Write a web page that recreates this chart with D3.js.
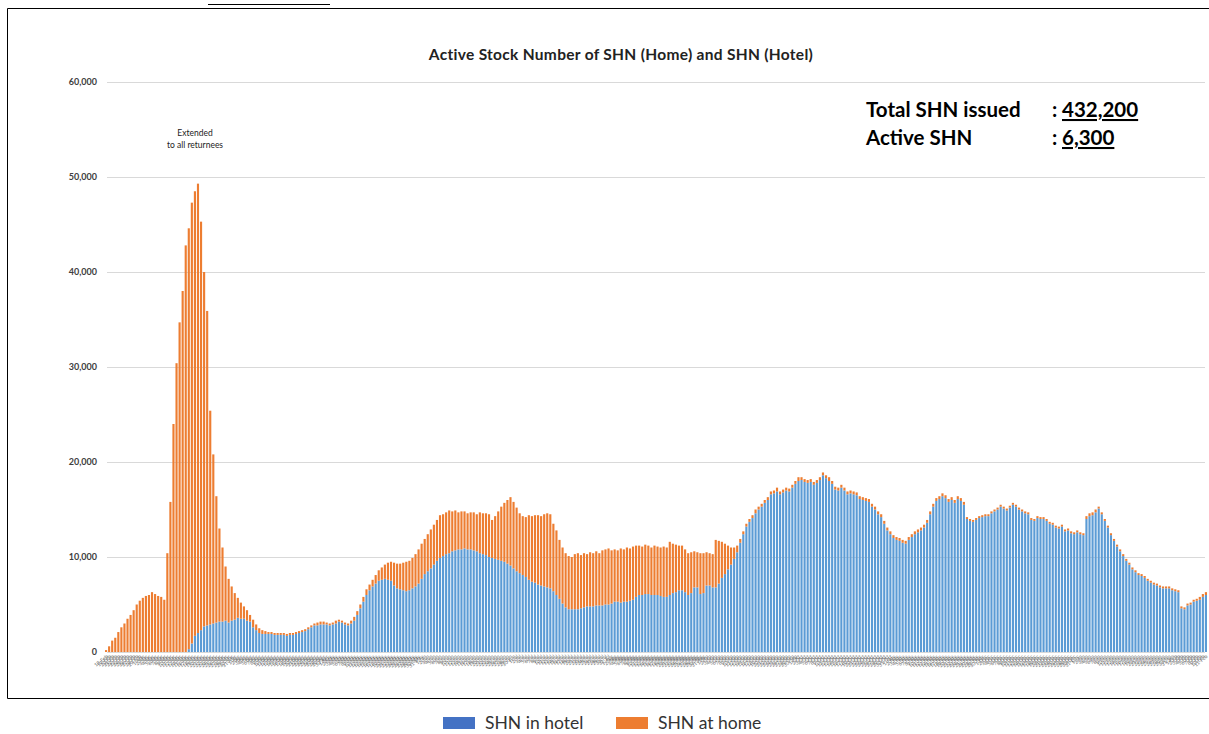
<!DOCTYPE html>
<html><head><meta charset="utf-8">
<script src="https://cdn.jsdelivr.net/npm/d3@7"></script>
<style>body{margin:0;background:#fff} svg{display:block}</style>
</head><body><svg id="c" width="1209" height="734"></svg>
<script>
const title = "Active Stock Number of SHN (Home) and SHN (Hotel)";
const seriesNames = ["SHN in hotel", "SHN at home"];
const seriesKeys = ["hotel", "home"];
const legendColors = ["#4472C4", "#ED7D31"];
const barColors = ["#5B9BD5", "#ED7D31"];
const yTicks = [0, 10000, 20000, 30000, 40000, 50000, 60000];
const annotation = ["Extended", "to all returnees"];
const infoLabels = ["Total SHN issued", "Active SHN"];
const infoValues = ["432,200", "6,300"];

const hotel = [
0,0,0,0,0,0,0,0,0,0,0,0,0,0,0,0,0,0,0,0,0,0,0,0,0,0,0,
300,900,1700,2000,2300,2700,2800,2900,3000,3100,3200,3200,3300,3100,3300,3400,3600,3500,3500,3300,3200,2600,2300,2000,1900,1900,1900,
1900,1800,1800,1800,1800,1700,1800,1800,1900,2000,2100,2200,2400,2600,2800,2800,2900,2900,2900,2800,2900,3000,3200,3100,2900,2800,3000,
3300,3900,4600,5300,6000,6500,6900,7200,7500,7600,7700,7600,7500,7000,6700,6600,6500,6400,6500,6700,6900,7200,7700,8200,8500,8800,9200,9600,9900,10100,
10300,10400,10600,10700,10800,10800,10900,10800,10800,10700,10600,10400,10300,10200,10000,9900,9800,9700,9600,9500,9300,9100,8800,8500,8300,8100,7900,7600,7400,7300,
7100,7000,6900,6800,6700,6400,6000,5600,5100,4700,4500,4500,4500,4500,4600,4700,4800,4800,4800,4900,4900,4900,5000,5000,5100,5300,5300,5200,5300,5300,
5400,5500,5800,6000,6000,6100,6100,6000,6000,6000,5900,5800,5800,6000,6200,6300,6500,6500,6300,6000,6200,6800,6800,6100,6200,7000,7000,6800,6800,7200,
7800,8200,8700,9200,9800,10500,11500,12400,13200,13700,14100,14600,15000,15300,15700,16000,16600,16700,16900,16600,16800,17000,16900,17300,17700,18000,18100,17900,17800,17900,
17600,17800,18100,18600,18300,18000,17700,17100,17000,17300,17000,16600,16700,16600,16500,16100,16000,15900,15800,15300,15000,14500,14200,13500,12800,12400,12000,11800,11700,11500,
11400,11800,12100,12400,12600,12800,13100,13600,14500,15300,15900,16100,16400,16200,15800,16000,15700,16100,15900,15500,14000,13800,13700,13900,14100,14200,14300,14300,14600,14800,
15000,15300,15100,14900,15200,15500,15300,15000,14800,14600,14500,13900,13800,14100,14000,14000,13800,13500,13400,13100,13000,13200,12700,12800,12500,12400,12600,12400,12300,14000,
14300,14400,14700,15100,14500,13800,13100,12300,11700,11100,10600,10100,9600,9200,8700,8400,8100,8000,7800,7500,7300,7100,7000,6800,6700,6700,6700,6500,6400,6300,4600,4500,4900,5000,5300,5400,5500,5800,6000
];

const home = [
200,600,1200,1500,2100,2600,3000,3500,3900,4400,5000,5400,5700,5900,6000,6300,6100,5900,5800,5500,10400,15800,24000,30400,34700,38000,42800,
44300,46400,46800,47300,43000,37300,33100,22500,17800,13300,9800,7800,5700,4600,3600,2800,2100,1700,1300,1100,700,800,600,500,400,300,200,
200,200,200,200,200,200,200,200,200,200,200,200,200,200,200,300,300,300,200,200,200,300,200,200,200,200,300,
400,400,400,500,600,600,700,900,1100,1300,1500,1800,2000,2400,2600,2700,2900,3100,3100,3200,3400,3600,3700,3700,3900,4100,4200,4300,4500,4400,
4400,4500,4200,4200,3900,4000,3900,3800,3900,4000,3900,4300,4300,4400,4500,4000,4500,5100,5700,6200,6700,7200,7000,6700,6300,6200,6300,6800,6900,7100,
7300,7300,7600,7800,7800,7100,6800,6200,5900,5700,5600,5500,5800,5900,5600,5700,5500,5700,5600,5700,5500,5800,5800,5900,5600,5500,5400,5700,5500,5700,
5500,5600,5400,5200,5100,5200,5100,5000,5200,5100,5100,5300,5200,5600,5200,5000,4700,4700,4500,4400,4300,3800,3700,4300,4200,3500,3400,3500,5000,4500,
3800,3200,2500,1800,1200,700,400,300,300,300,300,400,300,300,300,300,300,300,400,300,300,300,300,300,300,400,300,300,300,300,
300,300,300,300,300,400,300,300,300,300,300,300,300,300,300,300,300,300,300,300,300,300,300,300,300,300,300,300,300,300,
300,300,300,300,300,300,300,300,300,300,300,300,300,300,300,300,300,300,300,300,200,200,200,200,200,200,200,200,200,200,
200,200,200,200,200,200,200,200,200,200,200,200,200,200,200,200,200,200,200,200,200,200,200,200,200,200,200,200,200,300,
300,300,300,200,200,200,200,200,200,200,200,200,200,200,200,200,200,200,200,200,200,200,200,200,200,200,200,200,200,200,200,200,200,200,200,200,300,300,300
];

const N = hotel.length;
const startDate = new Date(2020, 1, 18);
const categories = d3.timeDay.range(startDate, d3.timeDay.offset(startDate, N)).map(d3.timeFormat("%-d-%b"));

const svg = d3.select("#c");
const FONT = "Lato, 'Open Sans', sans-serif";

// frame (right edge lies outside the picture)
svg.append("path").attr("d", "M1215,8.5 H7.5 V698.5 H1215")
  .attr("fill", "none").attr("stroke", "#000").attr("stroke-width", 1);
// remnant underline of caption above the frame
svg.append("line").attr("x1", 208).attr("x2", 330).attr("y1", 4.5).attr("y2", 4.5)
  .attr("stroke", "#000").attr("stroke-width", 1);

const y = d3.scaleLinear().domain([0, 60000]).range([652, 82]);
const x = d3.scaleBand().domain(d3.range(N)).range([105, 1207]).paddingInner(0.3);

// gridlines
svg.append("g").selectAll("line").data(yTicks).join("line")
  .attr("x1", 107).attr("x2", 1205)
  .attr("y1", d => Math.round(y(d)) + 0.5).attr("y2", d => Math.round(y(d)) + 0.5)
  .attr("stroke", "#d9d9d9").attr("stroke-width", 1);

// y axis
const yAxis = svg.append("g").attr("transform", "translate(97,0)")
  .call(d3.axisLeft(y).tickValues(yTicks).tickFormat(d3.format(",")).tickSize(0).tickPadding(0));
yAxis.select(".domain").remove();
yAxis.selectAll("text").attr("font-family", FONT).attr("font-size", 9).attr("font-weight", 700).attr("fill", "#404040");

// stacked bars
const rows = d3.range(N).map(i => ({ i, hotel: hotel[i], home: home[i] }));
const stacked = d3.stack().keys(seriesKeys)(rows);
svg.append("g").selectAll("g").data(stacked).join("g")
  .attr("fill", (d, k) => barColors[k])
  .selectAll("rect").data(d => d).join("rect")
  .attr("x", d => x(d.data.i))
  .attr("width", x.bandwidth())
  .attr("y", d => y(d[1]))
  .attr("height", d => Math.max(0, y(d[0]) - y(d[1])));

// tiny x labels
svg.append("g").selectAll("text").data(categories).join("text")
  .attr("transform", (d, i) => `translate(${x(i) + x.bandwidth() / 2 + 2},657) rotate(-40)`)
  .attr("text-anchor", "end").attr("font-family", FONT).attr("font-size", 5).attr("fill", "#6a6a6a")
  .text(d => d);

// title
svg.append("text").attr("x", 621).attr("y", 60).attr("text-anchor", "middle")
  .attr("font-family", FONT).attr("font-size", 15.5).attr("font-weight", 700).attr("fill", "#222")
  .attr("letter-spacing", 0.3)
  .text(title);

// annotation
svg.append("g").selectAll("text").data(annotation).join("text")
  .attr("x", 195).attr("y", (d, i) => 136 + i * 12).attr("text-anchor", "middle")
  .attr("font-family", FONT).attr("font-size", 8.5).attr("fill", "#222").text(d => d);

// info box
const info = svg.append("g").attr("font-family", FONT).attr("font-size", 20.5).attr("font-weight", 700).attr("fill", "#000");
info.selectAll("text.lab").data(infoLabels).join("text").attr("class", "lab")
  .attr("x", 866).attr("y", (d, i) => 117 + i * 28).text(d => d);
info.selectAll("text.col").data(infoValues).join("text").attr("class", "col")
  .attr("x", 1052).attr("y", (d, i) => 117 + i * 28).text(":");
info.selectAll("text.val").data(infoValues).join("text").attr("class", "val")
  .attr("x", 1062).attr("y", (d, i) => 117 + i * 28)
  .attr("text-decoration", "underline").text(d => d);

// legend
const legendX = [443, 616];
const lg = svg.append("g");
lg.selectAll("rect").data(seriesNames).join("rect")
  .attr("x", (d, i) => legendX[i]).attr("y", 717).attr("width", 32).attr("height", 12)
  .attr("fill", (d, i) => legendColors[i]);
lg.selectAll("text").data(seriesNames).join("text")
  .attr("x", (d, i) => legendX[i] + 42).attr("y", 729)
  .attr("font-family", FONT).attr("font-size", 17.5).attr("fill", "#333").text(d => d);
</script>
</body></html>
